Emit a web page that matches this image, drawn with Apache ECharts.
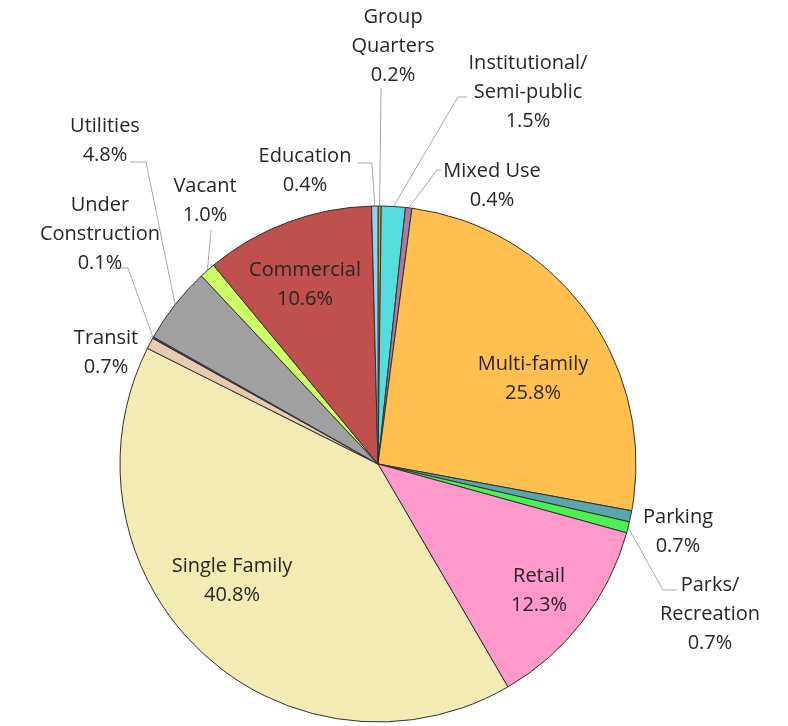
<!DOCTYPE html>
<html>
<head>
<meta charset="utf-8">
<script src="https://cdn.jsdelivr.net/npm/echarts@6/dist/echarts.min.js"></script>
<style>
  html, body { margin: 0; padding: 0; background: #fff; }
  #chart { width: 788px; height: 726px; }
</style>
</head>
<body>
<div id="chart"></div>
<script>
// land use shares (%), clockwise from 12 o'clock
const categories = [
  "Group\nQuarters", "Institutional/\nSemi-public", "Mixed Use", "Multi-family",
  "Parking", "Parks/\nRecreation", "Retail", "Single Family", "Transit",
  "Under\nConstruction", "Utilities", "Vacant", "Commercial", "Education"
];
const shares = [0.2, 1.5, 0.4, 25.8, 0.7, 0.7, 12.3, 40.8, 0.7, 0.1, 4.8, 1.0, 10.6, 0.4];

const colors = [
  "#d9a12b", "#55dcdc", "#b07a9e", "#ffc04f", "#5aa4ab", "#4df052", "#ff99cc",
  "#f3ebb4", "#e6cbb0", "#7030a0", "#a0a0a0", "#ccff66", "#c0504d", "#8cd4f2"
];

// label block centres (px), placed by hand like the original
const labelPos = [
  [393, 46], [528, 92], [492, 186], [533, 379], [678, 532], [710, 614], [539, 591],
  [232, 581], [106, 353], [100, 234], [105, 141], [205, 201], [305, 285], [305, 171]
];

// leader line: [end x, end y, elbow x, elbow y], null = no line
const leaders = [
  [381, 88, 381, 88], [467, 97, 458, 97], [441, 170, 437, 170], null,
  null, [677, 590, 663, 590], null, null, null,
  [112, 268, 128, 268], [130, 162, 146, 162], [211, 230, 211, 230], null,
  [358, 163, 372, 163]
];

const chart = echarts.init(document.getElementById("chart"));

const data = categories.map((name, i) => ({
  name: name,
  value: shares[i],
  itemStyle: { color: colors[i] },
  labelLine: { show: leaders[i] !== null }
}));

chart.setOption({
  animation: false,
  series: [
    {
      type: "pie",
      center: [378, 464],
      radius: 258,
      startAngle: 90,
      clockwise: true,
      avoidLabelOverlap: false,
      data: data,
      itemStyle: {
        borderColor: "#303030",
        borderWidth: 1
      },
      label: {
        show: true,
        formatter: (p) => p.name + "\n" + p.value.toFixed(1) + "%",
        fontFamily: "Open Sans",
        fontSize: 20,
        lineHeight: 29,
        color: "#262626",
        align: "center"
      },
      labelLine: {
        show: true,
        lineStyle: { color: "#a6a6a6", width: 1 }
      },
      labelLayout: (params) => {
        const i = params.dataIndex;
        const pos = labelPos[i];
        const out = {
          x: pos[0],
          y: pos[1],
          align: "center",
          verticalAlign: "middle"
        };
        const ld = leaders[i];
        if (ld && params.labelLinePoints) {
          const a = params.labelLinePoints[0];
          out.labelLinePoints = [[a[0], a[1]], [ld[2], ld[3]], [ld[0], ld[1]]];
        }
        return out;
      }
    }
  ]
});
</script>
</body>
</html>
